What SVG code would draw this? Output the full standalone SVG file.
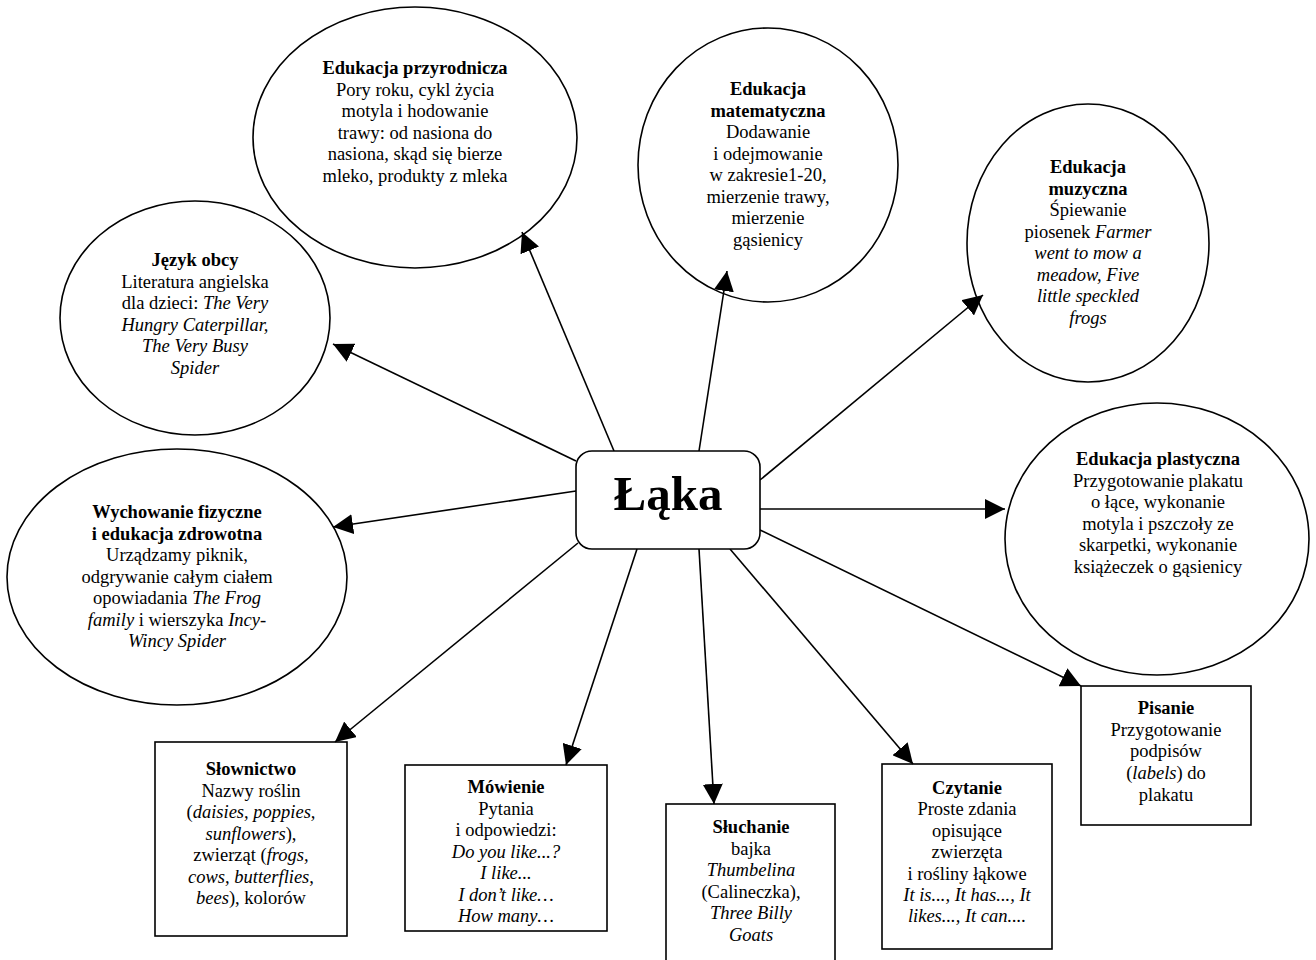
<svg xmlns="http://www.w3.org/2000/svg" width="1316" height="960" viewBox="0 0 1316 960">
<style>
.n{fill:#fff;stroke:#000;stroke-width:1.6}
text{font-family:"Liberation Serif","Times New Roman",serif;font-size:18.5px;fill:#000;text-anchor:middle}
.b{font-weight:bold}
.i{font-style:italic}
.c line{stroke:#000;stroke-width:1.6}
</style>
<defs>
<marker id="ah" markerUnits="userSpaceOnUse" markerWidth="20" markerHeight="20" refX="20" refY="10" orient="auto">
<path d="M0,0 L20,10 L0,20 z" fill="#000"/>
</marker>
</defs>
<rect width="1316" height="960" fill="#fff"/>

<g id="n-przyrodnicza">
<ellipse class="n" cx="415" cy="137.5" rx="162" ry="130.5"/>
<text x="415" y="74"><tspan class="b">Edukacja przyrodnicza</tspan><tspan x="415" dy="21.5">Pory roku, cykl życia</tspan><tspan x="415" dy="21.5">motyla i hodowanie</tspan><tspan x="415" dy="21.5">trawy: od nasiona do</tspan><tspan x="415" dy="21.5">nasiona, skąd się bierze</tspan><tspan x="415" dy="21.5">mleko, produkty z mleka</tspan></text>
</g>

<g id="n-jezyk">
<ellipse class="n" cx="195" cy="318" rx="135" ry="117"/>
<text x="195" y="266"><tspan class="b">Język obcy</tspan><tspan x="195" dy="21.5">Literatura angielska</tspan><tspan x="195" dy="21.5">dla dzieci: <tspan class="i">The Very</tspan></tspan><tspan x="195" dy="21.5" class="i">Hungry Caterpillar,</tspan><tspan x="195" dy="21.5" class="i">The Very Busy</tspan><tspan x="195" dy="21.5" class="i">Spider</tspan></text>
</g>

<g id="n-matematyczna">
<ellipse class="n" cx="768" cy="165" rx="130" ry="137"/>
<text x="768" y="95"><tspan class="b">Edukacja</tspan><tspan x="768" dy="21.5" class="b">matematyczna</tspan><tspan x="768" dy="21.5">Dodawanie</tspan><tspan x="768" dy="21.5">i odejmowanie</tspan><tspan x="768" dy="21.5">w zakresie1-20,</tspan><tspan x="768" dy="21.5">mierzenie trawy,</tspan><tspan x="768" dy="21.5">mierzenie</tspan><tspan x="768" dy="21.5">gąsienicy</tspan></text>
</g>

<g id="n-muzyczna">
<ellipse class="n" cx="1088" cy="243" rx="121" ry="139"/>
<text x="1088" y="173"><tspan class="b">Edukacja</tspan><tspan x="1088" dy="21.5" class="b">muzyczna</tspan><tspan x="1088" dy="21.5">Śpiewanie</tspan><tspan x="1088" dy="21.5">piosenek <tspan class="i">Farmer</tspan></tspan><tspan x="1088" dy="21.5" class="i">went to mow a</tspan><tspan x="1088" dy="21.5" class="i">meadow, Five</tspan><tspan x="1088" dy="21.5" class="i">little speckled</tspan><tspan x="1088" dy="21.5" class="i">frogs</tspan></text>
</g>

<g id="n-plastyczna">
<ellipse class="n" cx="1157" cy="539" rx="152" ry="136"/>
<text x="1158" y="465"><tspan class="b">Edukacja plastyczna</tspan><tspan x="1158" dy="21.6">Przygotowanie plakatu</tspan><tspan x="1158" dy="21.6">o łące, wykonanie</tspan><tspan x="1158" dy="21.6">motyla i pszczoły ze</tspan><tspan x="1158" dy="21.6">skarpetki, wykonanie</tspan><tspan x="1158" dy="21.6">książeczek o gąsienicy</tspan></text>
</g>

<g id="n-wychowanie">
<ellipse class="n" cx="177" cy="577" rx="170" ry="128"/>
<text x="177" y="518"><tspan class="b">Wychowanie fizyczne</tspan><tspan x="177" dy="21.5" class="b">i edukacja zdrowotna</tspan><tspan x="177" dy="21.5">Urządzamy piknik,</tspan><tspan x="177" dy="21.5">odgrywanie całym ciałem</tspan><tspan x="177" dy="21.5">opowiadania <tspan class="i">The Frog</tspan></tspan><tspan x="177" dy="21.5"><tspan class="i">family</tspan> i wierszyka <tspan class="i">Incy-</tspan></tspan><tspan x="177" dy="21.5" class="i">Wincy Spider</tspan></text>
</g>

<g id="n-slownictwo">
<rect class="n" x="155" y="742" width="192" height="194"/>
<text x="251" y="775"><tspan class="b">Słownictwo</tspan><tspan x="251" dy="21.5">Nazwy roślin</tspan><tspan x="251" dy="21.5">(<tspan class="i">daisies, poppies,</tspan></tspan><tspan x="251" dy="21.5"><tspan class="i">sunflowers</tspan>),</tspan><tspan x="251" dy="21.5">zwierząt (<tspan class="i">frogs,</tspan></tspan><tspan x="251" dy="21.5"><tspan class="i">cows, butterflies</tspan>,</tspan><tspan x="251" dy="21.5"><tspan class="i">bees</tspan>), kolorów</tspan></text>
</g>

<g id="n-mowienie">
<rect class="n" x="405" y="765" width="202" height="166"/>
<text x="506" y="793"><tspan class="b">Mówienie</tspan><tspan x="506" dy="21.5">Pytania</tspan><tspan x="506" dy="21.5">i odpowiedzi:</tspan><tspan x="506" dy="21.5" class="i">Do you like...?</tspan><tspan x="506" dy="21.5" class="i">I like...</tspan><tspan x="506" dy="21.5" class="i">I don’t like…</tspan><tspan x="506" dy="21.5" class="i">How many…</tspan></text>
</g>

<g id="n-sluchanie">
<rect class="n" x="666" y="804" width="169" height="160"/>
<text x="751" y="833"><tspan class="b">Słuchanie</tspan><tspan x="751" dy="21.5">bajka</tspan><tspan x="751" dy="21.5" class="i">Thumbelina</tspan><tspan x="751" dy="21.5">(Calineczka),</tspan><tspan x="751" dy="21.5" class="i">Three Billy</tspan><tspan x="751" dy="21.5" class="i">Goats</tspan></text>
</g>

<g id="n-czytanie">
<rect class="n" x="882" y="764" width="170" height="185"/>
<text x="967" y="794"><tspan class="b">Czytanie</tspan><tspan x="967" dy="21.4">Proste zdania</tspan><tspan x="967" dy="21.4">opisujące</tspan><tspan x="967" dy="21.4">zwierzęta</tspan><tspan x="967" dy="21.4">i rośliny łąkowe</tspan><tspan x="967" dy="21.4" class="i">It is..., It has..., It</tspan><tspan x="967" dy="21.4" class="i">likes..., It can....</tspan></text>
</g>

<g id="n-pisanie">
<rect class="n" x="1081" y="686" width="170" height="139"/>
<text x="1166" y="714"><tspan class="b">Pisanie</tspan><tspan x="1166" dy="21.7">Przygotowanie</tspan><tspan x="1166" dy="21.7">podpisów</tspan><tspan x="1166" dy="21.7">(<tspan class="i">labels</tspan>) do</tspan><tspan x="1166" dy="21.7">plakatu</tspan></text>
</g>

<g id="connectors" class="c">
<line x1="576" y1="461" x2="333" y2="344" marker-end="url(#ah)"/>
<line x1="614" y1="451" x2="522" y2="232" marker-end="url(#ah)"/>
<line x1="699" y1="451" x2="727" y2="271" marker-end="url(#ah)"/>
<line x1="760" y1="480" x2="983" y2="295" marker-end="url(#ah)"/>
<line x1="760" y1="509" x2="1005" y2="509" marker-end="url(#ah)"/>
<line x1="760" y1="530" x2="1081" y2="686" marker-end="url(#ah)"/>
<line x1="730" y1="549" x2="913" y2="764" marker-end="url(#ah)"/>
<line x1="699" y1="549" x2="714" y2="804" marker-end="url(#ah)"/>
<line x1="637" y1="549" x2="566" y2="765" marker-end="url(#ah)"/>
<line x1="578" y1="543" x2="335" y2="742" marker-end="url(#ah)"/>
<line x1="576" y1="491" x2="333" y2="527" marker-end="url(#ah)"/>
</g>

<g id="n-laka">
<rect class="n" x="576" y="451" width="184" height="98" rx="16" ry="16"/>
<text x="668" y="510" class="b" style="font-size:49px">Łąka</text>
</g>
</svg>
